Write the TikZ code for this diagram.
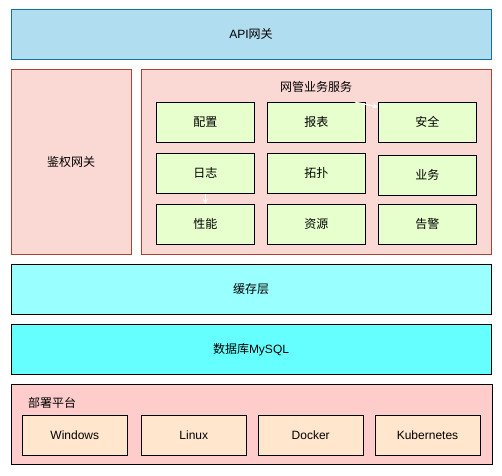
\documentclass[tikz,border=0pt]{standalone}
\usepackage{fontspec}
\setmainfont{Liberation Sans}
\newfontfamily\cjk{Noto Sans CJK SC}
\usetikzlibrary{arrows.meta}
\definecolor{apifill}{HTML}{B1DDF0}
\definecolor{apidraw}{HTML}{10739E}
\definecolor{redfill}{HTML}{FAD9D5}
\definecolor{reddraw}{HTML}{AE4132}
\definecolor{greenfill}{HTML}{E6FFCC}
\definecolor{cachefill}{HTML}{99FFFF}
\definecolor{dbfill}{HTML}{66FFFF}
\definecolor{deployfill}{HTML}{FFCCCC}
\definecolor{osfill}{HTML}{FFE6CC}
\tikzset{
  box/.style={draw, line width=0.75pt, inner sep=0pt, font=\fontsize{9pt}{11pt}\selectfont},
  modbox/.style={box, fill=greenfill, draw=black},
  osbox/.style={box, fill=osfill, draw=black},
  lbl/.style={inner sep=0pt, font=\fontsize{9pt}{11pt}\selectfont},
  ghost/.style={draw=white, line width=0.75pt, -{Stealth[length=4pt,width=4pt]}}
}
\begin{document}
\begin{tikzpicture}[x=0.75pt,y=-0.75pt]
\useasboundingbox (0,0) rectangle (502,475);
\fill[white] (0,0) rectangle (502,475);
% API gateway
\draw[box, fill=apifill, draw=apidraw] (11,9) rectangle (491,59);
\node[lbl] (api) at (251,34) {API{\cjk 网关}};
% auth gateway
\draw[box, fill=redfill, draw=reddraw] (11,69) rectangle (131,254);
\node[lbl] (auth) at (71,161.5) {\cjk 鉴权网关};
% service group
\draw[box, fill=redfill, draw=reddraw] (141,69) rectangle (491,254);
\node[lbl] (svc) at (316,87) {\cjk 网管业务服务};
% modules
\draw[modbox] (156,102.3) rectangle (254.7,142.3); \node[lbl] (m1) at (205.3,122.3) {\cjk 配置};
\draw[modbox] (267,102.3) rectangle (365.7,142.3); \node[lbl] (m2) at (316.3,122.3) {\cjk 报表};
\draw[modbox] (378,102.3) rectangle (476.7,142.3); \node[lbl] (m3) at (427.3,122.3) {\cjk 安全};
\draw[modbox] (156,153.3) rectangle (254.7,193.3); \node[lbl] (m4) at (205.3,173.3) {\cjk 日志};
\draw[modbox] (267,153.3) rectangle (365.7,193.3); \node[lbl] (m5) at (316.3,173.3) {\cjk 拓扑};
\draw[modbox] (378,155.3) rectangle (476.7,195.3); \node[lbl] (m6) at (427.3,175.3) {\cjk 业务};
\draw[modbox] (156,204.3) rectangle (254.7,244.3); \node[lbl] (m7) at (205.3,224.3) {\cjk 性能};
\draw[modbox] (267,204.3) rectangle (365.7,244.3); \node[lbl] (m8) at (316.3,224.3) {\cjk 资源};
\draw[modbox] (378,204.3) rectangle (476.7,244.3); \node[lbl] (m9) at (427.3,224.3) {\cjk 告警};
% faint white connectors
\coordinate (g1) at (355,102);
\coordinate (g2) at (378,107);
\draw[ghost] (g1) -- (g2);
\coordinate (g3) at (205.3,193.5);
\coordinate (g4) at (205.3,204);
\draw[ghost] (g3) -- (g4);
% cache
\draw[box, fill=cachefill, draw=black] (11,264) rectangle (491,314);
\node[lbl] (cache) at (251,289) {\cjk 缓存层};
% db
\draw[box, fill=dbfill, draw=black] (11,324.3) rectangle (491,374.3);
\node[lbl] (db) at (251,349.3) {{\cjk 数据库}MySQL};
% deploy
\draw[box, fill=deployfill, draw=black] (11,384.3) rectangle (492,464.3);
\node[lbl] (dep) at (52,402.7) {\cjk 部署平台};
\draw[osbox] (22,415.3) rectangle (127.7,455.3); \node[lbl] (o1) at (74.8,435.3) {Windows};
\draw[osbox] (141,415.3) rectangle (246.7,455.3); \node[lbl] (o2) at (193.8,435.3) {Linux};
\draw[osbox] (258,415.3) rectangle (363.3,455.3); \node[lbl] (o3) at (310.7,435.3) {Docker};
\draw[osbox] (375,415.3) rectangle (480,455.3); \node[lbl] (o4) at (427.5,435.3) {Kubernetes};
\end{tikzpicture}
\end{document}
